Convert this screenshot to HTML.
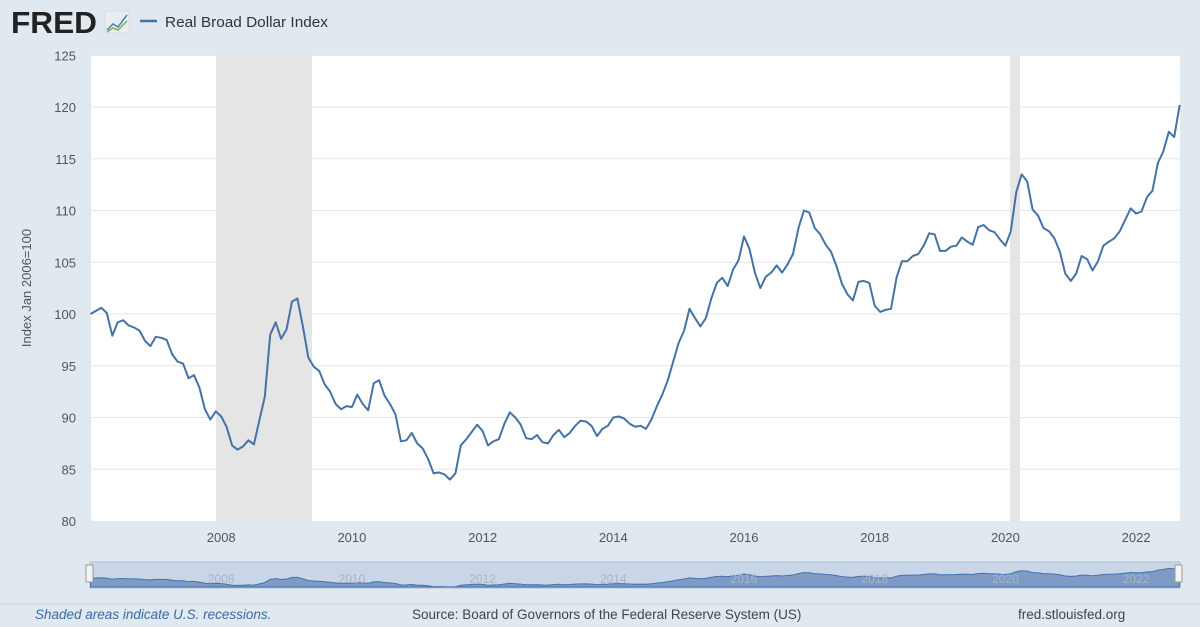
<!DOCTYPE html>
<html><head><meta charset="utf-8"><style>
html,body{margin:0;padding:0;background:#e1e9f0;}
svg{display:block;font-family:"Liberation Sans",sans-serif;}
</style></head><body>
<svg id="s" width="1200" height="627" xmlns="http://www.w3.org/2000/svg">
<rect width="1200" height="627" fill="#e1e9f0"/>
<text x="11" y="33" font-size="31" font-weight="bold" fill="#222" textLength="86" lengthAdjust="spacingAndGlyphs">FRED</text>
<rect x="105" y="11" width="24" height="22" fill="#e8eef0" stroke="#ccc" stroke-width="0.5"/>
<polyline points="107,30 113,24 118,27 127,15" fill="none" stroke="#4a7fb5" stroke-width="1.5"/>
<polyline points="107,32 113,28 118,30 127,21" fill="none" stroke="#7bb04a" stroke-width="1.5"/>
<line x1="140" y1="21" x2="157" y2="21" stroke="#4572a7" stroke-width="2.5"/>
<text x="165" y="27" font-size="15" fill="#333" textLength="163" lengthAdjust="spacingAndGlyphs">Real Broad Dollar Index</text>
<rect x="91" y="55" width="1089" height="466" fill="#fff"/>
<rect x="216" y="55" width="96" height="466" fill="#e5e5e5"/>
<rect x="1010" y="55" width="10" height="466" fill="#e5e5e5"/>
<g id="grid" stroke="#e6e6e6" stroke-width="1"></g>
<g id="yl" font-size="13" fill="#555" text-anchor="end"></g>
<g id="xl" font-size="13" fill="#555" text-anchor="middle"></g>
<text transform="translate(31,288) rotate(-90)" font-size="13" fill="#555" text-anchor="middle">Index Jan 2006=100</text>
<polyline id="line" fill="none" stroke="#4572a7" stroke-width="2" stroke-linejoin="round"/>
<rect x="90" y="562" width="1090" height="26" fill="#c9d6e8" stroke="#b0bfd4"/>
<path id="nav" fill="#7d9bc6" stroke="#4572a7" stroke-width="1"/>
<g id="nl" font-size="12" fill="#a8b4c4" text-anchor="middle"></g>
<rect x="86" y="565" width="7" height="17" fill="#f4f4f4" stroke="#999"/>
<rect x="1175" y="565" width="7" height="17" fill="#f4f4f4" stroke="#999"/>
<line x1="0" y1="604" x2="1200" y2="604" stroke="#c8d0d8"/>
<text x="35" y="619" font-size="13.5" font-style="italic" fill="#3a6aa0">Shaded areas indicate U.S. recessions.</text>
<text x="412" y="619" font-size="13.5" fill="#444">Source: Board of Governors of the Federal Reserve System (US)</text>
<text x="1018" y="619" font-size="13.5" fill="#444">fred.stlouisfed.org</text>
</svg>
<script>
var d=[100,100.3,100.6,100.1,97.9,99.2,99.4,98.9,98.7,98.4,97.4,96.9,
97.8,97.7,97.5,96.1,95.4,95.2,93.8,94.1,92.9,90.8,89.8,90.6,
90.1,89.1,87.3,86.9,87.2,87.8,87.4,89.7,92.0,98.0,99.2,97.6,
98.5,101.2,101.5,98.8,95.8,94.9,94.5,93.2,92.5,91.3,90.8,91.1,
91.0,92.2,91.3,90.7,93.3,93.6,92.1,91.3,90.3,87.7,87.8,88.5,
87.5,87.0,86.0,84.6,84.7,84.5,84.0,84.6,87.3,87.9,88.6,89.3,
88.7,87.3,87.7,87.9,89.4,90.5,90.0,89.3,88.0,87.9,88.3,87.6,
87.5,88.3,88.8,88.1,88.5,89.2,89.7,89.6,89.2,88.2,88.9,89.2,
90.0,90.1,89.9,89.4,89.1,89.2,88.9,89.8,91.1,92.2,93.6,95.4,
97.2,98.4,100.5,99.6,98.8,99.6,101.5,103.0,103.5,102.7,104.3,105.2,
107.5,106.3,104.0,102.5,103.6,104.0,104.7,104.0,104.8,105.8,108.3,110.0,
109.8,108.3,107.7,106.7,106.0,104.6,102.9,101.9,101.3,103.1,103.2,103.0,
100.8,100.2,100.4,100.5,103.5,105.1,105.1,105.6,105.8,106.6,107.8,107.7,
106.1,106.1,106.5,106.6,107.4,107.0,106.7,108.4,108.6,108.1,107.9,107.2,
106.6,108.0,111.8,113.5,112.8,110.1,109.5,108.3,108.0,107.3,106.0,103.9,
103.2,103.9,105.6,105.3,104.2,105.1,106.6,107.0,107.3,108.0,109.1,110.2,
109.7,109.9,111.3,111.9,114.6,115.7,117.6,117.1,120.2];
var ns="http://www.w3.org/2000/svg";
function X(i){return 90.5+i*65.35/12;}
function Y(v){return 314-(v-100)*10.35;}
var p=d.map(function(v,i){return X(i).toFixed(1)+","+Y(v).toFixed(1)}).join(" ");
document.getElementById("line").setAttribute("points",p);
var g=document.getElementById("grid"),yl=document.getElementById("yl"),xl=document.getElementById("xl"),nl=document.getElementById("nl");
for(var v=85;v<=125;v+=5){var l=document.createElementNS(ns,"line");l.setAttribute("x1",91);l.setAttribute("x2",1180);l.setAttribute("y1",Y(v));l.setAttribute("y2",Y(v));g.appendChild(l);}
for(var v=80;v<=125;v+=5){var t=document.createElementNS(ns,"text");t.setAttribute("x",76);t.setAttribute("y",Y(v)+5);t.textContent=v;yl.appendChild(t);}
for(var yr=2008;yr<=2022;yr+=2){var x=X((yr-2006)*12);var t=document.createElementNS(ns,"text");t.setAttribute("x",x);t.setAttribute("y",542);t.textContent=yr;xl.appendChild(t);
var t2=document.createElementNS(ns,"text");t2.setAttribute("x",x);t2.setAttribute("y",583);t2.textContent=yr;nl.appendChild(t2);}
function NY(v){return 587-(v-84)/(120.2-84)*20;}
var np="M"+X(0)+",587 "+d.map(function(v,i){return "L"+X(i).toFixed(1)+","+NY(v).toFixed(1)}).join(" ")+" L"+X(d.length-1)+",587 Z";
document.getElementById("nav").setAttribute("d",np);
</script>
</body></html>
